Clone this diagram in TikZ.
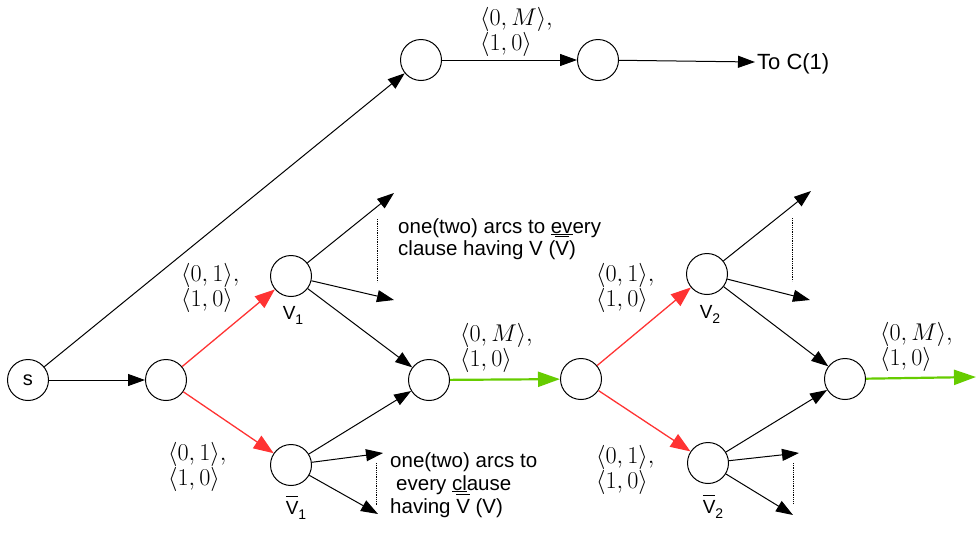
\RequirePackage{fix-cm}
\documentclass[tikz,border=0pt]{standalone}
\usepackage[no-math]{fontspec}
\usepackage{graphicx}
\setmainfont{Liberation Sans}
\usetikzlibrary{arrows.meta}
\definecolor{myred}{HTML}{FF3333}
\definecolor{mygreen}{HTML}{66CC00}
\newcommand\obar[1]{\leavevmode\vbox{\hrule height 1.3pt\kern 3.5pt\hbox{#1}}}
\newcommand\ul[1]{\leavevmode\vtop{\hbox{#1}\kern 0.3pt\hrule height 1.2pt}}
\newcommand\Vsub[1]{V\raisebox{-5pt}{\fontsize{14}{14}\selectfont #1}}
\newcommand\mm[1]{\scalebox{1.1}{$#1$}}
\begin{document}
\begin{tikzpicture}[x=1pt,y=-1pt,
  st/.style={circle,draw,line width=1pt,minimum size=41pt,inner sep=0pt,font=\fontsize{20}{22}\selectfont},
  blk/.style={line width=1pt,-{Triangle[length=17pt,width=12pt]}},
  redarr/.style={myred,line width=1.3pt,-{Triangle[length=20pt,width=15pt]}},
  grn/.style={mygreen,line width=2.2pt,-{Triangle[length=22pt,width=15pt]}},
  dotln/.style={densely dotted,line width=0.8pt},
  mth/.style={font=\fontsize{22}{25}\selectfont,anchor=base west,inner sep=0pt,align=left},
  txt/.style={font=\fontsize{20.5}{22}\selectfont,anchor=base west,inner sep=0pt},
  vl/.style={font=\fontsize{19}{20}\selectfont,anchor=base,inner sep=0pt}
]
\useasboundingbox (0,0) rectangle (979,552);
% nodes
\node[st] (s) at (28,380) {s};
\node[st] (a) at (166,380) {};
\node[st] (t1) at (421,60) {};
\node[st] (t2) at (598,60) {};
\node[st] (v1) at (291,276) {};
\node[st] (v1b) at (291,465) {};
\node[st] (m1) at (429,380) {};
\node[st] (m2) at (581,379) {};
\node[st] (v2) at (707,274) {};
\node[st] (v2b) at (708,463) {};
\node[st] (m3) at (845,379) {};
% free ends
\coordinate (toc) at (755,62);
\coordinate (c1u) at (394,193);
\coordinate (c1d) at (394,300);
\coordinate (c2u) at (383,453);
\coordinate (c2d) at (378,514);
\coordinate (c3u) at (811,191);
\coordinate (c3d) at (810,300);
\coordinate (c4u) at (799,453);
\coordinate (c4d) at (793,515);
\coordinate (gend) at (976,377);
\coordinate (d1a) at (377,219); \coordinate (d1b) at (377,282);
\coordinate (d2a) at (376,463); \coordinate (d2b) at (376,505);
\coordinate (d3a) at (792,218); \coordinate (d3b) at (792,281);
\coordinate (d4a) at (793,463); \coordinate (d4b) at (793,504);
% connectors
\draw[blk] (s) -- (a);
\draw[blk] (s) -- (t1);
\draw[blk] (t1) -- (t2);
\draw[blk] (t2) -- (toc);
\draw[redarr] (a) -- (v1);
\draw[redarr] (a) -- (v1b);
\draw[redarr] (m2) -- (v2);
\draw[redarr] (m2) -- (v2b);
\draw[blk] (v1) -- (m1);
\draw[blk] (v1b) -- (m1);
\draw[blk] (v2) -- (m3);
\draw[blk] (v2b) -- (m3);
\draw[blk] (v1) -- (c1u);
\draw[blk] (v1) -- (c1d);
\draw[blk] (v1b) -- (c2u);
\draw[blk] (v1b) -- (c2d);
\draw[blk] (v2) -- (c3u);
\draw[blk] (v2) -- (c3d);
\draw[blk] (v2b) -- (c4u);
\draw[blk] (v2b) -- (c4d);
\draw[grn] (m1) -- (m2);
\draw[grn] (m3) -- (gend);
\draw[dotln] (d1a) -- (d1b);
\draw[dotln] (d2a) -- (d2b);
\draw[dotln] (d3a) -- (d3b);
\draw[dotln] (d4a) -- (d4b);
% texts
\node[txt,font=\fontsize{22}{24}\selectfont] (tocl) at (757,69) {To C(1)};
\node[mth] (lt) at (480,50) {\mm{\langle 0,M\rangle,}\\\mm{\langle 1,0\rangle}};
\node[mth] (lm1) at (460,366) {\mm{\langle 0,M\rangle,}\\\mm{\langle 1,0\rangle}};
\node[mth] (lm3) at (880,365) {\mm{\langle 0,M\rangle,}\\\mm{\langle 1,0\rangle}};
\node[mth] (lv1) at (181,306) {\mm{\langle 0,1\rangle,}\\\mm{\langle 1,0\rangle}};
\node[mth] (lw1) at (168,485) {\mm{\langle 0,1\rangle,}\\\mm{\langle 1,0\rangle}};
\node[mth] (lv2) at (596,306) {\mm{\langle 0,1\rangle,}\\\mm{\langle 1,0\rangle}};
\node[mth] (lw2) at (596,488) {\mm{\langle 0,1\rangle,}\\\mm{\langle 1,0\rangle}};
\node[txt] (u1) at (398,233) {one(two) arcs to \ul{ev}ery};
\node[txt] (u2) at (398,255) {clause having V (\obar{V})};
\node[txt] (w1) at (390,467) {one(two) arcs to};
\node[txt] (w2) at (396,490) {every \ul{cl}ause};
\node[txt] (w3) at (390,513) {having \obar{V} (V)};
\node[vl] (nv1) at (293,319) {\Vsub{1}};
\node[vl] (nv1b) at (296,514) {\obar{V}\raisebox{-5pt}{\fontsize{14}{14}\selectfont 1}};
\node[vl] (nv2) at (710,318) {\Vsub{2}};
\node[vl] (nv2b) at (713,513) {\obar{V}\raisebox{-5pt}{\fontsize{14}{14}\selectfont 2}};
\end{tikzpicture}
\end{document}
